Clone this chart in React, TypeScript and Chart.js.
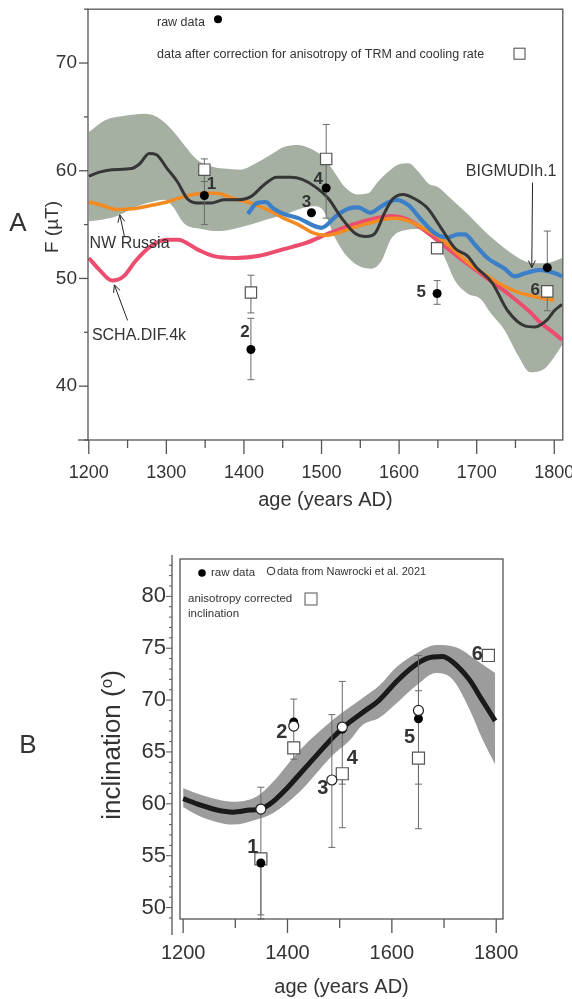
import React, { useEffect, useRef } from "react";
import { Chart, registerables } from "chart.js";
Chart.register(...registerables);

const FONT = '"Liberation Sans", Arial, Helvetica, sans-serif';
const TEXT = "#333333";
const AXIS = "#555555";

// ---------------- Panel A : intensity ----------------
const A_X_TICKS = [1200, 1250, 1300, 1350, 1400, 1450, 1500, 1550, 1600, 1650, 1700, 1750, 1800];
const A_X_LABELS = [1200, 1300, 1400, 1500, 1600, 1700, 1800];
const A_Y_TICKS = [40, 50, 60, 70];
const A_Y_MINOR = [35, 45, 55, 65, 75];

const A_ARCH_YEARS = [1200, 1215, 1230, 1255, 1265, 1278, 1287, 1301, 1314, 1327, 1340, 1358, 1374, 1391, 1409, 1426, 1442, 1460, 1475, 1492, 1509, 1526, 1543, 1558, 1569, 1582, 1592, 1605, 1620, 1637, 1654, 1672, 1688, 1700, 1720, 1740, 1762, 1775, 1790, 1800, 1810];
const A_ARCH_F = [59.5, 59.9, 60.1, 60.2, 60.6, 61.6, 61.5, 60.2, 59.0, 57.4, 57.0, 57.0, 57.3, 57.3, 57.6, 58.7, 59.4, 59.4, 59.2, 58.5, 57.4, 55.6, 54.2, 53.9, 54.2, 56.2, 57.4, 57.8, 57.4, 56.5, 54.7, 52.8, 52.1, 51.0, 49.6, 47.0, 45.6, 45.5, 46.1, 47.0, 47.6];

const A_BAND_UP_YEARS = [1200, 1221, 1246, 1272, 1288, 1306, 1323, 1340, 1358, 1374, 1396, 1413, 1435, 1451, 1470, 1490, 1505, 1519, 1530, 1547, 1560, 1573, 1586, 1600, 1612, 1625, 1638, 1650, 1667, 1688, 1710, 1736, 1762, 1782, 1800, 1810];
const A_BAND_UP_F = [63.6, 64.7, 65.1, 65.3, 65.0, 63.9, 62.4, 61.0, 60.4, 60.2, 60.1, 60.6, 61.5, 62.2, 62.4, 61.9, 61.1, 59.6, 58.5, 57.8, 57.9, 59.0, 59.9, 60.6, 60.7, 59.9, 58.8, 58.5, 57.4, 56.0, 54.4, 52.8, 51.6, 51.4, 51.6, 51.9];
const A_BAND_LO_YEARS = [1200, 1220, 1237, 1259, 1281, 1297, 1308, 1323, 1345, 1366, 1387, 1409, 1430, 1451, 1470, 1490, 1500, 1518, 1530, 1547, 1564, 1577, 1590, 1603, 1625, 1633, 1646, 1659, 1672, 1688, 1705, 1718, 1736, 1753, 1769, 1787, 1800, 1810];
const A_BAND_LO_F = [55.3, 55.5, 55.8, 56.6, 57.1, 57.3, 56.7, 55.1, 54.6, 54.4, 54.6, 55.0, 55.5, 55.9, 56.4, 56.7, 56.5, 53.7, 52.3, 51.2, 50.9, 51.6, 53.7, 54.4, 54.6, 54.4, 53.7, 51.9, 49.8, 48.6, 48.1, 46.8, 45.2, 42.9, 41.3, 41.6, 42.7, 43.8];

const A_NWR_YEARS = [1200, 1217, 1237, 1259, 1281, 1301, 1323, 1349, 1365, 1387, 1409, 1430, 1451, 1470, 1490, 1505, 1520, 1540, 1560, 1580, 1595, 1610, 1630, 1650, 1670, 1690, 1710, 1730, 1750, 1770, 1790, 1800];
const A_NWR_F = [57.1, 56.8, 56.4, 56.5, 56.8, 57.1, 57.6, 57.9, 57.9, 57.4, 57.0, 56.4, 55.6, 55.0, 54.2, 54.0, 54.2, 54.7, 55.1, 55.5, 55.6, 55.4, 54.7, 53.9, 52.7, 51.4, 50.4, 49.5, 48.8, 48.4, 48.1, 48.0];

const A_BIG_YEARS = [1405, 1417, 1428, 1438, 1451, 1470, 1500, 1519, 1535, 1547, 1563, 1577, 1596, 1612, 1628, 1646, 1663, 1676, 1685, 1697, 1714, 1736, 1749, 1763, 1782, 1800, 1810];
const A_BIG_F = [56.0, 57.0, 57.1, 56.5, 56.0, 55.6, 54.7, 55.8, 56.5, 56.6, 56.1, 56.7, 57.3, 56.8, 55.5, 54.2, 53.8, 54.1, 54.1, 53.2, 51.9, 50.9, 50.2, 50.5, 50.8, 50.5, 50.2];

const A_SCHA_YEARS = [1200, 1215, 1230, 1245, 1260, 1280, 1300, 1315, 1340, 1360, 1390, 1420, 1450, 1480, 1510, 1540, 1570, 1590, 1610, 1630, 1650, 1680, 1710, 1740, 1770, 1782, 1800, 1810];
const A_SCHA_F = [51.9, 50.7, 49.8, 50.2, 51.6, 53.0, 53.6, 53.6, 52.7, 52.1, 51.9, 52.1, 52.7, 53.3, 54.2, 55.0, 55.6, 55.8, 55.5, 54.6, 53.5, 51.8, 50.2, 48.6, 46.8, 45.9, 44.9, 44.3];

const A_SITE_LABELS = ["1", "2", "3", "4", "5", "6"];
const A_SITE_YEARS = [1349, 1409, 1487, 1506, 1649, 1791];
const A_RAW_F = [57.7, 43.4, 56.1, 58.4, 48.6, 51.0];
const A_RAW_LO = [55.0, 40.6, null, 55.6, 47.6, 51.0];
const A_RAW_HI = [59.0, 46.3, null, 58.4, 49.8, 54.4];
const A_COR_F = [60.1, 48.7, null, 61.1, 52.8, 48.8];
const A_COR_LO = [59.0, 46.8, null, 58.4, 51.6, 47.0];
const A_COR_HI = [61.1, 50.3, null, 64.3, null, 48.8];

// ---------------- Panel B : inclination ----------------
const B_X_TICKS = [1200, 1300, 1400, 1500, 1600, 1700, 1800];
const B_X_LABELS = [1200, 1400, 1600, 1800];
const B_Y_TICKS = [50, 55, 60, 65, 70, 75, 80];
const B_Y_MINOR = [49, 51, 52, 53, 54, 56, 57, 58, 59, 61, 62, 63, 64, 66, 67, 68, 69, 71, 72, 73, 74, 76, 77, 78, 79, 81, 82, 83];

const B_CURVE_YEARS = [1200, 1232, 1265, 1296, 1328, 1349, 1372, 1399, 1424, 1456, 1487, 1510, 1544, 1576, 1609, 1640, 1666, 1697, 1716, 1748, 1773, 1798];
const B_CURVE_I = [60.5, 59.9, 59.4, 59.2, 59.4, 59.5, 60.2, 61.5, 62.9, 64.7, 66.4, 67.5, 68.8, 70.0, 71.8, 73.2, 74.0, 74.2, 73.7, 72.0, 70.0, 68.0];
const B_BAND_UP_YEARS = [1200, 1232, 1296, 1341, 1372, 1424, 1487, 1519, 1544, 1576, 1609, 1647, 1685, 1723, 1761, 1798];
const B_BAND_UP_I = [61.5, 60.9, 60.2, 60.7, 62.1, 65.2, 68.1, 69.3, 70.2, 71.4, 73.2, 74.5, 75.3, 75.1, 73.9, 72.6];
const B_BAND_LO_YEARS = [1200, 1232, 1296, 1341, 1372, 1424, 1487, 1519, 1544, 1576, 1609, 1647, 1685, 1716, 1748, 1773, 1798];
const B_BAND_LO_I = [59.7, 58.8, 58.0, 58.5, 59.1, 61.2, 64.7, 66.1, 67.6, 68.3, 69.7, 71.4, 72.6, 72.0, 69.2, 66.3, 63.8];

const B_SITE_LABELS = ["1", "2", "3", "4", "5", "6"];
const B_SITE_YEARS = [1349, 1412, 1485, 1505, 1651, 1785];
const B_RAW_I = [54.3, 67.9, null, 67.2, 68.2, null];
const B_RAW_LO = [48.9, 64.3, null, 61.9, 61.9, null];
const B_RAW_HI = [54.3, 70.1, null, 71.8, 74.3, null];
const B_NAW_I = [59.5, 67.5, 62.3, 67.4, 69.0, null];
const B_NAW_LO = [49.3, null, 55.8, null, 69.0, null];
const B_NAW_HI = [61.6, null, 68.6, null, 70.9, null];
const B_COR_I = [54.7, 65.4, null, 62.9, 64.4, 74.3];
const B_COR_LO = [null, null, null, 57.7, 57.6, null];
const B_COR_HI = [null, null, null, 62.9, 64.4, null];

// ---------------- styles ----------------
const A_BAND = "#a5b0a3";
const B_BAND = "#9c9c9c";
// pixel offsets of the site numbers from their anchor marker
const A_LABEL_STYLE = [
  { anchor: "raw", dx: 7, dy: -11 },
  { anchor: "raw", dx: -6, dy: -17 },
  { anchor: "raw", dx: -5, dy: -10 },
  { anchor: "raw", dx: -8, dy: -9 },
  { anchor: "raw", dx: -16, dy: -1 },
  { anchor: "cor", dx: -12, dy: -1 },
];
const B_LABEL_STYLE = [
  { anchor: "raw", dx: -8, dy: -15 },
  { anchor: "cor", dx: -12, dy: -15 },
  { anchor: "naw", dx: -9, dy: 9 },
  { anchor: "cor", dx: 10, dy: -15 },
  { anchor: "cor", dx: -9, dy: -21 },
  { anchor: "cor", dx: -11, dy: -1 },
];
const A_ANNOTATIONS = [
  { text: "NW Russia", x: 1201, y: 53.2, from: [1246, 53.9], to: [1240, 55.9] },
  { text: "SCHA.DIF.4k", x: 1204, y: 44.7, from: [1250, 46.1], to: [1233, 49.4] },
  { text: "BIGMUDIh.1", x: 1686, y: 59.9, from: [1772, 58.9], to: [1771, 51.0] },
];

const xy = (xs: number[], ys: (number | null)[]) =>
  xs.map((x, i) => ({ x, y: ys[i] })).filter((p) => p.y !== null && p.y !== undefined);

function line(ctx: CanvasRenderingContext2D, x1: number, y1: number, x2: number, y2: number) {
  ctx.beginPath();
  ctx.moveTo(x1, y1);
  ctx.lineTo(x2, y2);
  ctx.stroke();
}

function drawErr(chart: any, years: number[], mid: (number | null)[], lo: (number | null)[], hi: (number | null)[]) {
  const { ctx, scales } = chart;
  ctx.save();
  ctx.strokeStyle = "#6a6a6a";
  ctx.lineWidth = 1;
  years.forEach((yr, i) => {
    const l = lo[i], h = hi[i], m = mid[i];
    if (l === null || h === null || m === null) return;
    const px = scales.x.getPixelForValue(yr);
    const yl = scales.y.getPixelForValue(l);
    const yh = scales.y.getPixelForValue(h);
    line(ctx, px, yl, px, yh);
    if (l < m) line(ctx, px - 3.5, yl, px + 3.5, yl);
    if (h > m) line(ctx, px - 3.5, yh, px + 3.5, yh);
  });
  ctx.restore();
}

function arrow(ctx: CanvasRenderingContext2D, x1: number, y1: number, x2: number, y2: number) {
  line(ctx, x1, y1, x2, y2);
  const a = Math.atan2(y2 - y1, x2 - x1);
  const L = 8, w = 0.45;
  ctx.beginPath();
  ctx.moveTo(x2 - L * Math.cos(a - w), y2 - L * Math.sin(a - w));
  ctx.lineTo(x2, y2);
  ctx.lineTo(x2 - L * Math.cos(a + w), y2 - L * Math.sin(a + w));
  ctx.stroke();
}

function txt(ctx: CanvasRenderingContext2D, s: string, x: number, y: number, size: number, align: CanvasTextAlign = "left", weight = "normal") {
  ctx.font = `${weight} ${size}px ${FONT}`;
  ctx.textAlign = align;
  ctx.textBaseline = "middle";
  ctx.fillStyle = TEXT;
  ctx.fillText(s, x, y);
}

const panelAPlugin = {
  id: "panelA",
  beforeDatasetDraw(chart: any, args: any) {
    if (chart.data.datasets[args.index].label !== "corrected") return;
    drawErr(chart, A_SITE_YEARS, A_COR_F, A_COR_LO, A_COR_HI);
    drawErr(chart, A_SITE_YEARS, A_RAW_F, A_RAW_LO, A_RAW_HI);
  },
  afterDraw(chart: any) {
    const { ctx, chartArea: ca, scales } = chart;
    const X = (v: number) => scales.x.getPixelForValue(v);
    const Y = (v: number) => scales.y.getPixelForValue(v);
    ctx.save();
    ctx.strokeStyle = AXIS;
    ctx.lineWidth = 1.3;
    ctx.strokeRect(ca.left, ca.top, ca.right - ca.left, ca.bottom - ca.top);
    line(ctx, ca.left - 10, ca.bottom, ca.left, ca.bottom);
    A_Y_TICKS.forEach((v) => line(ctx, ca.left - 9, Y(v), ca.left, Y(v)));
    A_Y_MINOR.forEach((v) => line(ctx, ca.left - 4, Y(v), ca.left, Y(v)));
    A_X_TICKS.forEach((v) => {
      const len = A_X_LABELS.includes(v) ? 14 : 8;
      line(ctx, X(v), ca.bottom, X(v), ca.bottom + len);
    });
    // legend
    txt(ctx, "raw data", ca.left + 69, ca.top + 13, 12.5);
    ctx.fillStyle = "#000";
    ctx.beginPath();
    ctx.arc(ca.left + 130, ca.top + 10, 4, 0, Math.PI * 2);
    ctx.fill();
    txt(ctx, "data after correction for anisotropy of TRM and cooling rate", ca.left + 69, ca.top + 45, 12.5);
    ctx.fillStyle = "#fff";
    ctx.strokeStyle = AXIS;
    ctx.lineWidth = 1.1;
    ctx.fillRect(ca.left + 426, ca.top + 39, 11, 11);
    ctx.strokeRect(ca.left + 426, ca.top + 39, 11, 11);
    // annotations
    ctx.strokeStyle = "#222";
    ctx.lineWidth = 1;
    A_ANNOTATIONS.forEach((a) => {
      txt(ctx, a.text, X(a.x), Y(a.y), 16);
      arrow(ctx, X(a.from[0]), Y(a.from[1]), X(a.to[0]), Y(a.to[1]));
    });
    // site numbers
    A_SITE_LABELS.forEach((s, i) => {
      const st = A_LABEL_STYLE[i];
      const v = st.anchor === "raw" ? A_RAW_F[i] : A_COR_F[i];
      if (v === null) return;
      txt(ctx, s, X(A_SITE_YEARS[i]) + st.dx, Y(v) + st.dy, 17, "center", "bold");
    });
    // titles
    txt(ctx, "age (years AD)", (ca.left + ca.right) / 2, 500, 20, "center");
    ctx.save();
    ctx.translate(53, 227);
    ctx.rotate(-Math.PI / 2);
    txt(ctx, "F (\u00b5T)", 0, 0, 19, "center");
    ctx.restore();
    txt(ctx, "A", 18, 224, 26, "center");
    ctx.restore();
  },
};

const panelBPlugin = {
  id: "panelB",
  beforeDatasetDraw(chart: any, args: any) {
    if (chart.data.datasets[args.index].label !== "corrected") return;
    drawErr(chart, B_SITE_YEARS, B_COR_I, B_COR_LO, B_COR_HI);
    drawErr(chart, B_SITE_YEARS, B_RAW_I, B_RAW_LO, B_RAW_HI);
    drawErr(chart, B_SITE_YEARS, B_NAW_I, B_NAW_LO, B_NAW_HI);
  },
  afterDraw(chart: any) {
    const { ctx, chartArea: ca, scales } = chart;
    const X = (v: number) => scales.x.getPixelForValue(v);
    const Y = (v: number) => scales.y.getPixelForValue(v);
    ctx.save();
    ctx.strokeStyle = AXIS;
    ctx.lineWidth = 1.3;
    ctx.strokeRect(ca.left, ca.top, ca.right - ca.left, ca.bottom - ca.top);
    const ax = ca.left - 8;
    line(ctx, ax, ca.top - 4, ax, ca.bottom + 16);
    ctx.lineWidth = 1;
    B_Y_TICKS.forEach((v) => line(ctx, ax - 6, Y(v), ax, Y(v)));
    B_Y_MINOR.forEach((v) => line(ctx, ax - 3, Y(v), ax, Y(v)));
    ctx.lineWidth = 1.3;
    B_X_TICKS.forEach((v) => {
      const len = B_X_LABELS.includes(v) ? 14 : 9;
      line(ctx, X(v), ca.bottom, X(v), ca.bottom + len);
    });
    // legend
    ctx.fillStyle = "#000";
    ctx.beginPath();
    ctx.arc(ca.left + 22, ca.top + 14, 3.8, 0, Math.PI * 2);
    ctx.fill();
    txt(ctx, "raw data", ca.left + 31, ca.top + 14, 11.5);
    ctx.fillStyle = "#fff";
    ctx.strokeStyle = "#222";
    ctx.lineWidth = 1;
    ctx.beginPath();
    ctx.arc(ca.left + 91, ca.top + 12, 3.8, 0, Math.PI * 2);
    ctx.fill();
    ctx.stroke();
    txt(ctx, "data from Nawrocki et al. 2021", ca.left + 97, ca.top + 13, 11);
    txt(ctx, "anisotropy corrected", ca.left + 8, ca.top + 40, 11.5);
    txt(ctx, "inclination", ca.left + 8, ca.top + 55, 11.5);
    ctx.fillStyle = "#fff";
    ctx.strokeStyle = AXIS;
    ctx.fillRect(ca.left + 125, ca.top + 34, 12, 12);
    ctx.strokeRect(ca.left + 125, ca.top + 34, 12, 12);
    // site numbers
    B_SITE_LABELS.forEach((s, i) => {
      const st = B_LABEL_STYLE[i];
      const v = st.anchor === "raw" ? B_RAW_I[i] : st.anchor === "naw" ? B_NAW_I[i] : B_COR_I[i];
      if (v === null) return;
      txt(ctx, s, X(B_SITE_YEARS[i]) + st.dx, Y(v) + st.dy, 20, "center", "bold");
    });
    // titles
    txt(ctx, "age (years AD)", (ca.left + ca.right) / 2, 467, 20, "center");
    ctx.save();
    ctx.translate(113, 225);
    ctx.rotate(-Math.PI / 2);
    const big = `normal 26px ${FONT}`;
    const small = `normal 17px ${FONT}`;
    ctx.font = big;
    const w1 = ctx.measureText("inclination (").width;
    const w3 = ctx.measureText(")").width;
    ctx.font = small;
    const w2 = ctx.measureText("o").width;
    const start = -(w1 + w2 + w3) / 2;
    txt(ctx, "inclination (", start, 0, 26, "left");
    txt(ctx, "o", start + w1, -6, 17, "left");
    txt(ctx, ")", start + w1 + w2, 0, 26, "left");
    ctx.restore();
    txt(ctx, "B", 28, 226, 26, "center");
    ctx.restore();
  },
};

const curve = (label: string, data: any, color: string, width: number, order: number) => ({
  label, data, borderColor: color, borderWidth: width, pointRadius: 0, fill: false,
  showLine: true, cubicInterpolationMode: "monotone", order,
});

const zeroPadding = (s: any) => {
  s.paddingLeft = 0;
  s.paddingRight = 0;
  s.paddingTop = 0;
  s.paddingBottom = 0;
};

function axisX(min: number, max: number, ticks: number[], labels: number[], h: number, pad: number, size: number) {
  return {
    type: "linear", min, max,
    afterFit: (s: any) => { s.height = h; zeroPadding(s); },
    afterBuildTicks: (s: any) => { s.ticks = ticks.map((v) => ({ value: v })); },
    grid: { display: false, drawTicks: false },
    border: { display: false },
    ticks: {
      autoSkip: false, maxRotation: 0, minRotation: 0, padding: pad, color: TEXT,
      font: { size, family: FONT },
      callback: (v: number) => (labels.includes(v) ? String(v) : ""),
    },
  };
}
function axisY(min: number, max: number, ticks: number[], w: number, pad: number, size: number) {
  return {
    type: "linear", min, max,
    afterFit: (s: any) => { s.width = w; zeroPadding(s); },
    afterBuildTicks: (s: any) => { s.ticks = ticks.map((v) => ({ value: v })); },
    grid: { display: false, drawTicks: false },
    border: { display: false },
    ticks: { autoSkip: false, padding: pad, color: TEXT, font: { size, family: FONT } },
  };
}

const baseOptions = {
  responsive: false,
  animation: false,
  devicePixelRatio: 1,
  events: [],
  plugins: { legend: { display: false }, tooltip: { enabled: false } },
};

function topConfig(): any {
  return {
    type: "line",
    data: {
      datasets: [
        { label: "band upper", data: xy(A_BAND_UP_YEARS, A_BAND_UP_F), fill: "+1", backgroundColor: A_BAND, borderColor: A_BAND, borderWidth: 0, pointRadius: 0, cubicInterpolationMode: "monotone", order: 11 },
        { label: "band lower", data: xy(A_BAND_LO_YEARS, A_BAND_LO_F), fill: false, borderColor: A_BAND, borderWidth: 0, pointRadius: 0, cubicInterpolationMode: "monotone", order: 10 },
        curve("SCHA.DIF.4k", xy(A_SCHA_YEARS, A_SCHA_F), "#ec4d6f", 4, 7),
        curve("NW Russia", xy(A_NWR_YEARS, A_NWR_F), "#f38a22", 3.5, 6),
        curve("BIGMUDIh.1", xy(A_BIG_YEARS, A_BIG_F), "#3b7fc8", 4.2, 5),
        curve("archaeomagnetic", xy(A_ARCH_YEARS, A_ARCH_F), "#363636", 3, 4),
        { label: "corrected", data: xy(A_SITE_YEARS, A_COR_F), showLine: false, pointStyle: "rect", pointRadius: 8, backgroundColor: "#fff", borderColor: AXIS, borderWidth: 1.2, order: 2 },
        { label: "raw", data: xy(A_SITE_YEARS, A_RAW_F), showLine: false, pointStyle: "circle", pointRadius: 4.5, backgroundColor: "#000", borderColor: "#000", borderWidth: 0, order: 1 },
      ],
    },
    options: {
      ...baseOptions,
      layout: { padding: { left: 0, right: 7, top: 8, bottom: 0 } },
      scales: {
        x: axisX(1199, 1811, A_X_TICKS, A_X_LABELS, 80, 22, 18),
        y: axisY(35, 75, A_Y_TICKS, 88, 11, 19),
      },
    },
    plugins: [panelAPlugin],
  };
}

function bottomConfig(): any {
  return {
    type: "line",
    data: {
      datasets: [
        { label: "band upper", data: xy(B_BAND_UP_YEARS, B_BAND_UP_I), fill: "+1", backgroundColor: B_BAND, borderColor: B_BAND, borderWidth: 0, pointRadius: 0, cubicInterpolationMode: "monotone", order: 11 },
        { label: "band lower", data: xy(B_BAND_LO_YEARS, B_BAND_LO_I), fill: false, borderColor: B_BAND, borderWidth: 0, pointRadius: 0, cubicInterpolationMode: "monotone", order: 10 },
        curve("model", xy(B_CURVE_YEARS, B_CURVE_I), "#1a1a1a", 5, 5),
        { label: "corrected", data: xy(B_SITE_YEARS, B_COR_I), showLine: false, pointStyle: "rect", pointRadius: 8.5, backgroundColor: "#fff", borderColor: AXIS, borderWidth: 1.2, order: 3 },
        { label: "raw", data: xy(B_SITE_YEARS, B_RAW_I), showLine: false, pointStyle: "circle", pointRadius: 4.5, backgroundColor: "#000", borderColor: "#000", borderWidth: 0, order: 2 },
        { label: "Nawrocki", data: xy(B_SITE_YEARS, B_NAW_I), showLine: false, pointStyle: "circle", pointRadius: 5, backgroundColor: "#fff", borderColor: "#222", borderWidth: 1.2, order: 1 },
      ],
    },
    options: {
      ...baseOptions,
      layout: { padding: { left: 0, right: 69, top: 39, bottom: 0 } },
      scales: {
        x: axisX(1194, 1813, B_X_TICKS, B_X_LABELS, 80, 22, 20),
        y: axisY(48.9, 83.6, B_Y_TICKS, 180, 14, 22),
      },
    },
    plugins: [panelBPlugin],
  };
}

export default function App() {
  const topRef = useRef<HTMLCanvasElement>(null);
  const botRef = useRef<HTMLCanvasElement>(null);
  useEffect(() => {
    const c1 = new Chart(topRef.current as HTMLCanvasElement, topConfig());
    const c2 = new Chart(botRef.current as HTMLCanvasElement, bottomConfig());
    return () => {
      c1.destroy();
      c2.destroy();
    };
  }, []);
  return (
    <div style={{ position: "absolute", left: 0, top: 0, width: 572, height: 999, background: "#fff", overflow: "hidden" }}>
      <canvas ref={topRef} width={572} height={520} style={{ position: "absolute", left: 0, top: 0, display: "block" }} />
      <canvas ref={botRef} width={572} height={479} style={{ position: "absolute", left: 0, top: 520, display: "block" }} />
    </div>
  );
}
